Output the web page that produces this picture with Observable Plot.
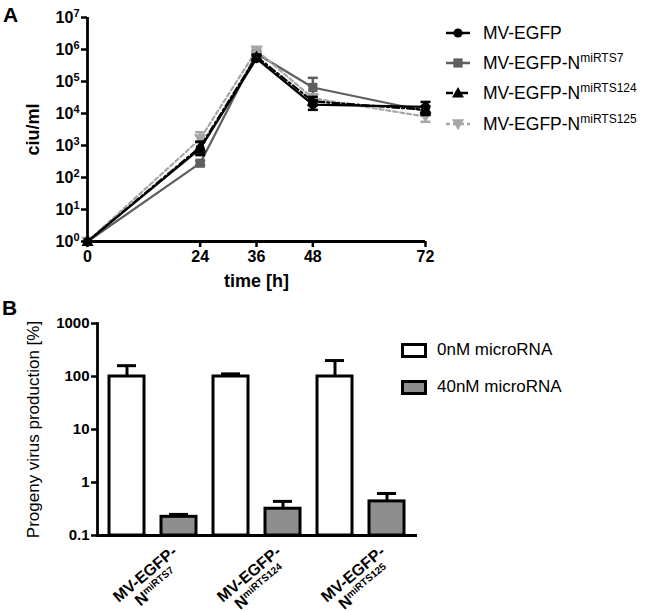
<!DOCTYPE html>
<html><head><meta charset="utf-8">
<script src="https://cdn.jsdelivr.net/npm/d3@7"></script>
<script src="https://cdn.jsdelivr.net/npm/@observablehq/plot@0.6"></script>
<style>
body{margin:0;background:#fff;font-family:"Liberation Sans",Arial,Helvetica,sans-serif;color:#000;}
#wrap{position:relative;width:660px;height:612px;overflow:hidden;background:#fff;}
.abs{position:absolute;}
.letter{font-weight:bold;font-size:21px;line-height:1;}
.lgA{position:absolute;left:446px;height:22px;display:flex;align-items:center;font-size:17.5px;white-space:nowrap;}
.lgA svg{margin-right:13px;}
.lgA sup{font-size:12px;vertical-align:7px;line-height:0;}
.lgB{position:absolute;left:401px;height:20px;display:flex;align-items:center;font-size:17px;white-space:nowrap;}
.box{width:20px;height:9px;border:3px solid #000;margin-right:10px;}
</style></head><body><div id="wrap"></div>
<script>
// ---------- Panel A data ----------
const times = [0, 24, 36, 48, 72];
const seriesBase = ["MV-EGFP", "MV-EGFP-N", "MV-EGFP-N", "MV-EGFP-N"];
const seriesSup = ["", "miRTS7", "miRTS124", "miRTS125"];
const valEGFP   = [1, 800, 5.2e5, 1.9e4, 1.6e4];
const valRTS7   = [1, 280, 7.5e5, 6.5e4, 1.2e4];
const valRTS124 = [1, 900, 6.0e5, 2.4e4, 1.3e4];
const valRTS125 = [1, 1600, 9.5e5, 3.0e4, 8.0e3];
const loEGFP   = [1, 500, 4.5e5, 1.3e4, 1.1e4];
const hiEGFP   = [1, 1300, 6.5e5, 2.6e4, 2.3e4];
const loRTS7   = [1, 240, 6.5e5, 4.0e4, 9.0e3];
const hiRTS7   = [1, 330, 8.5e5, 1.3e5, 1.6e4];
const loRTS124 = [1, 600, 5.0e5, 1.8e4, 9.0e3];
const hiRTS124 = [1, 1300, 7.0e5, 3.3e4, 1.7e4];
const loRTS125 = [1, 600, 8.5e5, 2.0e4, 5.5e3];
const hiRTS125 = [1, 2600, 1.1e6, 4.0e4, 1.1e4];
const yTicksA = [1, 10, 100, 1e3, 1e4, 1e5, 1e6, 1e7];

// ---------- Panel B data ----------
const groupNames = ["MV-EGFP-", "MV-EGFP-", "MV-EGFP-"];
const groupSubs = ["miRTS7", "miRTS124", "miRTS125"];
const conditions = ["0nM microRNA", "40nM microRNA"];
const mean0nM = [100, 100, 100];
const err0nM = [160, 112, 200];
const mean40nM = [0.225, 0.32, 0.44];
const err40nM = [0.25, 0.44, 0.62];
const yTicksB = [0.1, 1, 10, 100, 1000];

const FONT = '"Liberation Sans", Arial, Helvetica, sans-serif';
const wrap = document.getElementById("wrap");

// custom symbols
const capSym = {draw(ctx, size){const r = Math.sqrt(size/Math.PI); ctx.moveTo(-r,0); ctx.lineTo(r,0);}};
const triUp = {draw(ctx, size){const s = Math.sqrt(size/Math.PI); ctx.moveTo(0,-s); ctx.lineTo(s,0.75*s); ctx.lineTo(-s,0.75*s); ctx.closePath();}};
const triDown = {draw(ctx, size){const s = Math.sqrt(size/Math.PI); ctx.moveTo(0,s); ctx.lineTo(s,-0.75*s); ctx.lineTo(-s,-0.75*s); ctx.closePath();}};

const vals = [valEGFP, valRTS7, valRTS124, valRTS125];
const los = [loEGFP, loRTS7, loRTS124, loRTS125];
const his = [hiEGFP, hiRTS7, hiRTS124, hiRTS125];
const styles = [
  {color:"#000000", dash:null, symbol:"circle", r:4.6},
  {color:"#5f5f5f", dash:null, symbol:"square", r:5.2},
  {color:"#000000", dash:"7,3,2,3", symbol:triUp, r:6},
  {color:"#a6a6a6", dash:"4,3", symbol:triDown, r:6.2}
];
const rowsA = [];
vals.forEach((arr, s) => times.forEach((t, i) => rowsA.push({s, t, v: arr[i], lo: los[s][i], hi: his[s][i]})));

const marksA = [];
[1,3,2,0].forEach(s => {
  const st = styles[s];
  const rows = rowsA.filter(d => d.s === s);
  const eb = rows.filter(d => d.hi > d.lo);
  marksA.push(Plot.ruleX(eb, {x:"t", y1:"lo", y2:"hi", stroke: st.color, strokeWidth: 2.5}));
  marksA.push(Plot.dot(eb, {x:"t", y:"hi", symbol: capSym, r: 5, stroke: st.color, strokeWidth: 2.5}));
  marksA.push(Plot.dot(eb, {x:"t", y:"lo", symbol: capSym, r: 5, stroke: st.color, strokeWidth: 2.5}));
  marksA.push(Plot.line(rows, {x:"t", y:"v", stroke: st.color, strokeWidth: 2.2, strokeDasharray: st.dash}));
  marksA.push(Plot.dot(rows, {x:"t", y:"v", symbol: st.symbol, r: st.r, fill: st.color, stroke: "none"}));
});

const plotA = Plot.plot({
  width: 440, height: 296,
  marginLeft: 87, marginRight: 15, marginTop: 17, marginBottom: 55,
  style: {fontFamily: FONT, color: "#000", background: "transparent", overflow: "visible"},
  x: {type: "linear", domain: [0, 72]},
  y: {type: "log", domain: [1, 1e7]},
  marks: [
    ...marksA,
    Plot.ruleX([0], {strokeWidth: 2.8}),
    Plot.ruleY([1], {strokeWidth: 2.8}),
    Plot.axisX({ticks: times, tickSize: 6, tickPadding: 3, fontSize: 16, fontWeight: "bold", strokeWidth: 2.5, label: null}),
    Plot.axisY({ticks: yTicksA, tickFormat: d => "10^" + Math.round(Math.log10(d)), tickSize: 6, tickPadding: 2, fontSize: 16, fontWeight: "bold", strokeWidth: 2.5, label: null}),
    Plot.text(["time [h]"], {frameAnchor: "bottom", dy: 45, fontSize: 18, fontWeight: "bold", textAnchor: "middle"}),
    Plot.text(["ciu/ml"], {frameAnchor: "left", dx: -54, rotate: -90, fontSize: 18, fontWeight: "bold", textAnchor: "middle", lineAnchor: "middle"})
  ]
});
plotA.style.position = "absolute"; plotA.style.left = "0px"; plotA.style.top = "0px";
wrap.appendChild(plotA);
d3.select(plotA).selectAll('g[aria-label="y-axis tick label"] text').each(function(){
  const [b, e] = this.textContent.split("^");
  this.textContent = b;
  d3.select(this).append("tspan").attr("font-size", 11).attr("dy", "-0.55em").text(e);
});

// Legend A
const legA = [33, 63, 93, 124];
seriesBase.forEach((name, s) => {
  const st = styles[s];
  const div = document.createElement("div");
  div.className = "lgA";
  div.style.top = (legA[s] - 11) + "px";
  const svg = d3.create("svg").attr("width", 24).attr("height", 20);
  svg.append("line").attr("x1", 0).attr("x2", 24).attr("y1", 10).attr("y2", 10)
    .attr("stroke", st.color).attr("stroke-width", 2.5).attr("stroke-dasharray", st.dash);
  const sym = typeof st.symbol === "string" ? (st.symbol === "circle" ? d3.symbolCircle : d3.symbolSquare) : st.symbol;
  svg.append("path").attr("transform", "translate(12,10)")
    .attr("d", d3.symbol().type(sym).size(Math.PI * st.r * st.r)()).attr("fill", st.color);
  div.appendChild(svg.node());
  const span = document.createElement("span");
  span.innerHTML = name + (seriesSup[s] ? "<sup>" + seriesSup[s] + "</sup>" : "");
  div.appendChild(span);
  wrap.appendChild(div);
});

// ---------- Panel B ----------
const rowsB = [];
groupNames.forEach((g, i) => {
  rowsB.push({g: i, key: i + "|0", cond: 0, v: mean0nM[i], hi: err0nM[i]});
  rowsB.push({g: i, key: i + "|1", cond: 1, v: mean40nM[i], hi: err40nM[i]});
});
const keysB = rowsB.map(d => d.key);
const widthB = 440, mLB = 97, mRB = 23;
const padIn = 0.32, padOut = 0.19;
const stepB = (widthB - mLB - mRB) / (keysB.length - padIn + 2 * padOut);
const yMinB = yTicksB[0];
const fills = ["#ffffff", "#8e8e8e"];
const labelRows = groupNames.map((g, i) => ({g: i, key: i + "|0", text: g + "\nN"}));

const plotB = Plot.plot({
  width: widthB, height: 312,
  marginLeft: mLB, marginRight: mRB, marginTop: 23, marginBottom: 77,
  style: {fontFamily: FONT, color: "#000", background: "transparent", overflow: "visible"},
  x: {type: "band", domain: keysB, paddingInner: padIn, paddingOuter: padOut, axis: null},
  y: {type: "log", domain: [yMinB, 1000]},
  color: {type: "identity"},
  marks: [
    Plot.ruleX(rowsB, {x: "key", y1: "v", y2: "hi", strokeWidth: 3}),
    Plot.tickY(rowsB, {x: "key", y: "hi", strokeWidth: 3, inset: 8}),
    Plot.barY(rowsB, {x: "key", y1: yMinB, y2: "v", fill: d => fills[d.cond], stroke: "#000", strokeWidth: 3}),
    Plot.ruleY([yMinB], {strokeWidth: 2.8}),
    Plot.frame({anchor: "left", strokeWidth: 2.8}),
    Plot.axisY({ticks: yTicksB, tickFormat: d => d < 1 ? "0.1" : String(d), tickSize: 6, tickPadding: 2, fontSize: 15, fontWeight: "bold", strokeWidth: 2.5, label: null}),
    Plot.text(labelRows, {x: "key", text: "text", frameAnchor: "bottom", dx: stepB / 2 - 3, dy: 45, rotate: -40, fontSize: 16, fontWeight: "bold", lineAnchor: "middle", textAnchor: "middle", lineHeight: 1.05}),
    Plot.text(["Progeny virus production [%]"], {frameAnchor: "left", dx: -64, rotate: -90, fontSize: 17, textAnchor: "middle", lineAnchor: "middle"})
  ]
});
plotB.style.position = "absolute"; plotB.style.left = "0px"; plotB.style.top = "300px";
wrap.appendChild(plotB);
let li = 0;
d3.select(plotB).selectAll('text').each(function(){
  const ts = this.querySelectorAll("tspan");
  if (ts.length === 2 && ts[1].textContent === "N") {
    d3.select(ts[1]).append("tspan").attr("font-size", 10).attr("dy", "-0.55em").text(groupSubs[li++]);
  }
});

// Legend B
const legB = [350, 387];
conditions.forEach((c, i) => {
  const div = document.createElement("div");
  div.className = "lgB";
  div.style.top = (legB[i] - 10) + "px";
  const box = document.createElement("div");
  box.className = "box"; box.style.background = fills[i];
  div.appendChild(box);
  const span = document.createElement("span"); span.textContent = c;
  div.appendChild(span);
  wrap.appendChild(div);
});

// Panel letters
[["A", 3, 4], ["B", 2, 297]].forEach(([t, l, tp]) => {
  const d = document.createElement("div");
  d.className = "abs letter"; d.style.left = l + "px"; d.style.top = tp + "px"; d.textContent = t;
  wrap.appendChild(d);
});
</script>
</body></html>
